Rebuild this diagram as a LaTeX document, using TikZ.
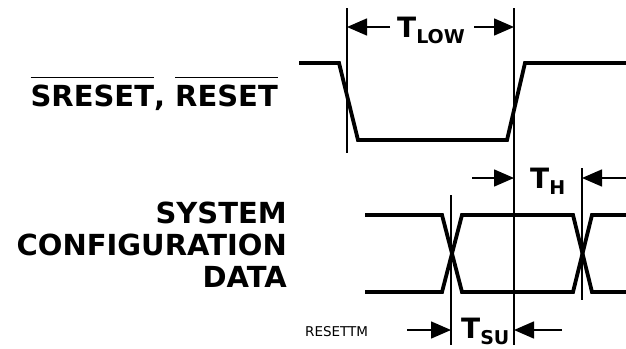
\documentclass[tikz,border=0pt]{standalone}
\usepackage{fontspec}
\setmainfont{DejaVu Sans}
\usetikzlibrary{arrows.meta}
\newcommand{\ovbar}[1]{\vbox{\hrule height 1.5pt\kern 6pt\hbox{#1}}}
\newcommand{\tparam}[1]{T\raisebox{-6pt}{\fontsize{19}{19}\selectfont #1}}

\begin{document}
\begin{tikzpicture}[x=1pt,y=-1pt,>={Triangle[length=20pt,width=17pt]},
  sig/.style={line width=3.8pt},
  ref/.style={line width=1.2pt},
  dim/.style={line width=1.5pt,->},
  lbl/.style={font=\fontsize{29}{29}\selectfont\bfseries,inner sep=0pt},
  tlbl/.style={font=\fontsize{28}{28}\selectfont\bfseries,inner sep=0pt,anchor=base west}]
\useasboundingbox (0,0) rectangle (626,348);
\draw[sig] (299,63) -- (339,63) -- (358,140) -- (507,140) -- (525,63) -- (626,63);
\draw[sig] (365,215) -- (442,215) -- (462,292) -- (573,292) -- (592,215) -- (626,215);
\draw[sig] (365,292) -- (442,292) -- (462,215) -- (573,215) -- (592,292) -- (626,292);
\coordinate (fallTop) at (347,8);   \coordinate (fallBot) at (347,153);
\coordinate (riseTop) at (514,8);   \coordinate (riseBot) at (514,345);
\coordinate (setupTop) at (451,195); \coordinate (setupBot) at (451,345);
\coordinate (holdTop) at (582,168);  \coordinate (holdBot) at (582,300);
\draw[ref] (fallTop) -- (fallBot);
\draw[ref] (riseTop) -- (riseBot);
\draw[ref] (setupTop) -- (setupBot);
\draw[ref] (holdTop) -- (holdBot);
\node[tlbl] (tlow) at (397,37) {\tparam{LOW}};
\node[tlbl] (th) at (530,188) {\tparam{H}};
\node[tlbl] (tsu) at (461,338) {\tparam{SU}};
\coordinate (lowL) at (390,27);  \coordinate (lowR) at (474,27);
\coordinate (hL) at (472,178);   \coordinate (hR) at (626,178);
\coordinate (suL) at (407,330);  \coordinate (suR) at (562,330);
\draw[dim] (lowL) -- (lowL -| fallTop);
\draw[dim] (lowR) -- (lowR -| riseTop);
\draw[dim] (hL) -- (hL -| riseTop);
\draw[dim] (hR) -- (hR -| holdTop);
\draw[dim] (suL) -- (suL -| setupTop);
\draw[dim] (suR) -- (suR -| riseTop);
\node[lbl,anchor=base east] (reset) at (278,106) {\ovbar{SRESET}, \ovbar{RESET}};
\node[lbl,anchor=base east] (system) at (287,223) {SYSTEM};
\node[lbl,anchor=base east] (config) at (287,255) {CONFIGURATION};
\node[lbl,anchor=base east] (data) at (287,287) {DATA};
\node[font=\fontsize{13.5}{13.5}\selectfont,inner sep=0pt,anchor=base west] (resettm) at (305,336) {RESETTM};
\end{tikzpicture}
\end{document}
